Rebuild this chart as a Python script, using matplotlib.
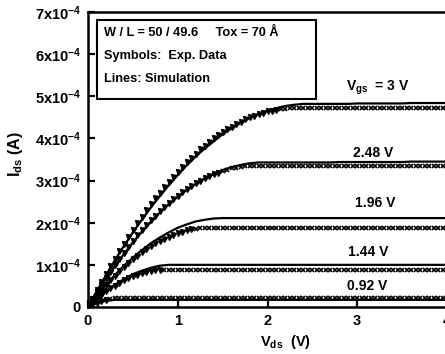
import numpy as np
import matplotlib.pyplot as plt
from matplotlib.patches import Rectangle

plt.rcParams['font.family'] = ['Liberation Sans', 'DejaVu Sans']
plt.rcParams['font.weight'] = 'bold'
plt.rcParams['mathtext.fontset'] = 'custom'
plt.rcParams['mathtext.rm'] = 'Liberation Sans:bold'
plt.rcParams['mathtext.it'] = 'Liberation Sans:bold'
plt.rcParams['mathtext.bf'] = 'Liberation Sans:bold'

# drain voltage grids (V): measured every 50 mV, simulation every 100 mV
vds_exp = [round(0.05 * i, 2) for i in range(81)]
vds_sim = [round(0.1 * i, 1) for i in range(41)]

# measured drain current, units of 1e-4 A
exp_300 = [0.0, 0.20, 0.40, 0.60, 0.79, 0.97, 1.15, 1.33, 1.50, 1.67,
           1.83, 1.99, 2.14, 2.29, 2.44, 2.58, 2.71, 2.84, 2.97, 3.09,
           3.21, 3.33, 3.44, 3.54, 3.64, 3.74, 3.83, 3.91, 4.00, 4.08,
           4.15, 4.22, 4.28, 4.34, 4.40, 4.45, 4.50, 4.54, 4.58, 4.61,
           4.64, 4.66, 4.68, 4.70, 4.71, 4.72, 4.72, 4.72, 4.72, 4.72,
           4.72, 4.72, 4.72, 4.72, 4.72, 4.72, 4.72, 4.72, 4.72, 4.72,
           4.72, 4.72, 4.72, 4.72, 4.72, 4.72, 4.72, 4.72, 4.72, 4.72,
           4.72, 4.72, 4.72, 4.72, 4.72, 4.72, 4.72, 4.72, 4.72, 4.72,
           4.72]
exp_248 = [0.0, 0.18, 0.35, 0.52, 0.69, 0.84, 1.00, 1.15, 1.29, 1.43,
           1.57, 1.70, 1.82, 1.94, 2.06, 2.17, 2.27, 2.37, 2.47, 2.56,
           2.64, 2.72, 2.80, 2.87, 2.94, 3.00, 3.05, 3.11, 3.15, 3.19,
           3.23, 3.26, 3.29, 3.31, 3.33, 3.34, 3.35, 3.35, 3.35, 3.35,
           3.35, 3.35, 3.35, 3.35, 3.35, 3.35, 3.35, 3.35, 3.35, 3.35,
           3.35, 3.35, 3.35, 3.35, 3.35, 3.35, 3.35, 3.35, 3.35, 3.35,
           3.35, 3.35, 3.35, 3.35, 3.35, 3.35, 3.35, 3.35, 3.35, 3.35,
           3.35, 3.35, 3.35, 3.35, 3.35, 3.35, 3.35, 3.35, 3.35, 3.35,
           3.35]
exp_196 = [0.0, 0.14, 0.27, 0.39, 0.52, 0.63, 0.74, 0.85, 0.95, 1.04,
           1.13, 1.22, 1.30, 1.37, 1.44, 1.51, 1.57, 1.62, 1.67, 1.71,
           1.75, 1.79, 1.82, 1.84, 1.86, 1.87, 1.88, 1.88, 1.88, 1.88,
           1.88, 1.88, 1.88, 1.88, 1.88, 1.88, 1.88, 1.88, 1.88, 1.88,
           1.88, 1.88, 1.88, 1.88, 1.88, 1.88, 1.88, 1.88, 1.88, 1.88,
           1.88, 1.88, 1.88, 1.88, 1.88, 1.88, 1.88, 1.88, 1.88, 1.88,
           1.88, 1.88, 1.88, 1.88, 1.88, 1.88, 1.88, 1.88, 1.88, 1.88,
           1.88, 1.88, 1.88, 1.88, 1.88, 1.88, 1.88, 1.88, 1.88, 1.88,
           1.88]
exp_144 = [0.0, 0.10, 0.19, 0.28, 0.37, 0.44, 0.51, 0.58, 0.63, 0.69,
           0.73, 0.77, 0.80, 0.83, 0.85, 0.87, 0.88, 0.88, 0.88, 0.88,
           0.88, 0.88, 0.88, 0.88, 0.88, 0.88, 0.88, 0.88, 0.88, 0.88,
           0.88, 0.88, 0.88, 0.88, 0.88, 0.88, 0.88, 0.88, 0.88, 0.88,
           0.88, 0.88, 0.88, 0.88, 0.88, 0.88, 0.88, 0.88, 0.88, 0.88,
           0.88, 0.88, 0.88, 0.88, 0.88, 0.88, 0.88, 0.88, 0.88, 0.88,
           0.88, 0.88, 0.88, 0.88, 0.88, 0.88, 0.88, 0.88, 0.88, 0.88,
           0.88, 0.88, 0.88, 0.88, 0.88, 0.88, 0.88, 0.88, 0.88, 0.88,
           0.88]
exp_092 = [0.0, 0.06, 0.10, 0.14, 0.17, 0.19, 0.21, 0.21, 0.21, 0.21,
           0.21, 0.21, 0.21, 0.21, 0.21, 0.21, 0.21, 0.21, 0.21, 0.21,
           0.21, 0.21, 0.21, 0.21, 0.21, 0.21, 0.21, 0.21, 0.21, 0.21,
           0.21, 0.21, 0.21, 0.21, 0.21, 0.21, 0.21, 0.21, 0.21, 0.21,
           0.21, 0.21, 0.21, 0.21, 0.21, 0.21, 0.21, 0.21, 0.21, 0.21,
           0.21, 0.21, 0.21, 0.21, 0.21, 0.21, 0.21, 0.21, 0.21, 0.21,
           0.21, 0.21, 0.21, 0.21, 0.21, 0.21, 0.21, 0.21, 0.21, 0.21,
           0.21, 0.21, 0.21, 0.21, 0.21, 0.21, 0.21, 0.21, 0.21, 0.21,
           0.21]

# simulated drain current, units of 1e-4 A
sim_300 = [0.0, 0.39, 0.75, 1.11, 1.45, 1.77, 2.07, 2.36, 2.63, 2.89,
           3.13, 3.36, 3.57, 3.76, 3.93, 4.10, 4.24, 4.37, 4.48, 4.58,
           4.66, 4.72, 4.77, 4.80, 4.82, 4.82, 4.82, 4.82, 4.82, 4.82,
           4.83, 4.83, 4.83, 4.83, 4.83, 4.83, 4.84, 4.84, 4.84, 4.84, 4.84]
sim_248 = [0.0, 0.34, 0.67, 0.97, 1.26, 1.53, 1.79, 2.02, 2.24, 2.44,
           2.62, 2.78, 2.92, 3.05, 3.16, 3.25, 3.32, 3.37, 3.41, 3.43,
           3.43, 3.43, 3.43, 3.43, 3.43, 3.43, 3.43, 3.43, 3.44, 3.44,
           3.44, 3.44, 3.44, 3.44, 3.44, 3.44, 3.45, 3.45, 3.45, 3.45, 3.45]
sim_196 = [0.0, 0.27, 0.53, 0.76, 0.98, 1.17, 1.35, 1.51, 1.65, 1.77,
           1.88, 1.96, 2.03, 2.07, 2.10, 2.11, 2.11, 2.11, 2.11, 2.11,
           2.11, 2.11, 2.11, 2.11, 2.11, 2.11, 2.11, 2.11, 2.11, 2.11,
           2.11, 2.11, 2.11, 2.11, 2.11, 2.11, 2.11, 2.11, 2.11, 2.11, 2.11]
sim_144 = [0.0, 0.20, 0.38, 0.53, 0.66, 0.78, 0.86, 0.93, 0.98, 1.00,
           1.00, 1.00, 1.00, 1.00, 1.00, 1.00, 1.00, 1.00, 1.00, 1.00,
           1.00, 1.00, 1.00, 1.00, 1.00, 1.00, 1.00, 1.00, 1.00, 1.00,
           1.00, 1.00, 1.00, 1.00, 1.00, 1.00, 1.00, 1.00, 1.00, 1.00, 1.00]
sim_092 = [0.0, 0.09, 0.15, 0.17, 0.17, 0.17, 0.17, 0.17, 0.17, 0.17,
           0.17, 0.17, 0.17, 0.17, 0.17, 0.17, 0.17, 0.17, 0.17, 0.17,
           0.17, 0.17, 0.17, 0.17, 0.17, 0.17, 0.17, 0.17, 0.17, 0.17,
           0.17, 0.17, 0.17, 0.17, 0.17, 0.17, 0.17, 0.17, 0.17, 0.17, 0.17]

exp_curves = [exp_300, exp_248, exp_196, exp_144, exp_092]
sim_curves = [sim_300, sim_248, sim_196, sim_144, sim_092]
curve_labels = ['V$_{gs}$  = 3 V', '2.48 V', '1.96 V', '1.44 V', '0.92 V']
# index where symbols switch from triangles to crosses
sat_start = [43, 30, 24, 17, 5]
label_pos = [(2.87, 5.13), (2.95, 3.56), (2.98, 2.38), (2.90, 1.21), (2.89, 0.40)]

fig = plt.figure(figsize=(4.45, 3.54), dpi=100)
ax = fig.add_axes([88 / 445, 1 - 307 / 354, 359 / 445, 295 / 354])

xe = np.array(vds_exp)
xs = np.array(vds_sim)
for e, s, k in zip(exp_curves, sim_curves, sat_start):
    e = np.array(e) * 1e-4
    s = np.array(s) * 1e-4
    ax.plot(xs, s, color='black', lw=1.6, zorder=2)
    ax.plot(xe[:k], e[:k], 'v', color='black', ms=3.6, zorder=3)
    ax.plot(xe[k:], e[k:], 'x', color='black', ms=3.0, mew=1.2, zorder=3)

for lab, (lx, ly) in zip(curve_labels, label_pos):
    ax.text(lx, ly * 1e-4, lab, fontsize=10, fontweight='bold',
            ha='left', va='baseline')

ax.set_xlim(0, 4)
ax.set_ylim(0, 7e-4)
ax.set_xticks([0, 1, 2, 3, 4])
ax.set_xticklabels(['0', '1', '2', '3', '4'])
ax.set_yticks([i * 1e-4 for i in range(8)])
ax.set_yticklabels(['0'] + [f'{i}x10$^{{-4}}$' for i in range(1, 8)])
ax.tick_params(direction='in', length=5, width=1.6, labelsize=10.5, pad=5)
for sp in ax.spines.values():
    sp.set_linewidth(1.8)

ax.set_ylabel('I$_{ds}$ (A)', fontsize=11.5, fontweight='bold')
ax.yaxis.set_label_coords(-0.175, 0.52)
ax.text(0.549, -0.088, 'V$_{ds}$  (V)', transform=ax.transAxes, fontsize=10.5,
        fontweight='bold', ha='center', va='top')

# annotation box
ax.add_patch(Rectangle((0.025, 0.705), 0.61, 0.268, transform=ax.transAxes,
                       fill=False, lw=1.5, zorder=4))
info = ['W / L = 50 / 49.6     Tox = 70 Å', 'Symbols:  Exp. Data',
        'Lines: Simulation']
for i, t in enumerate(info):
    ax.text(0.045, 0.929 - i * 0.078, t, transform=ax.transAxes,
            fontsize=9.2, fontweight='bold', va='center')

fig.savefig('out.png', dpi=100)
